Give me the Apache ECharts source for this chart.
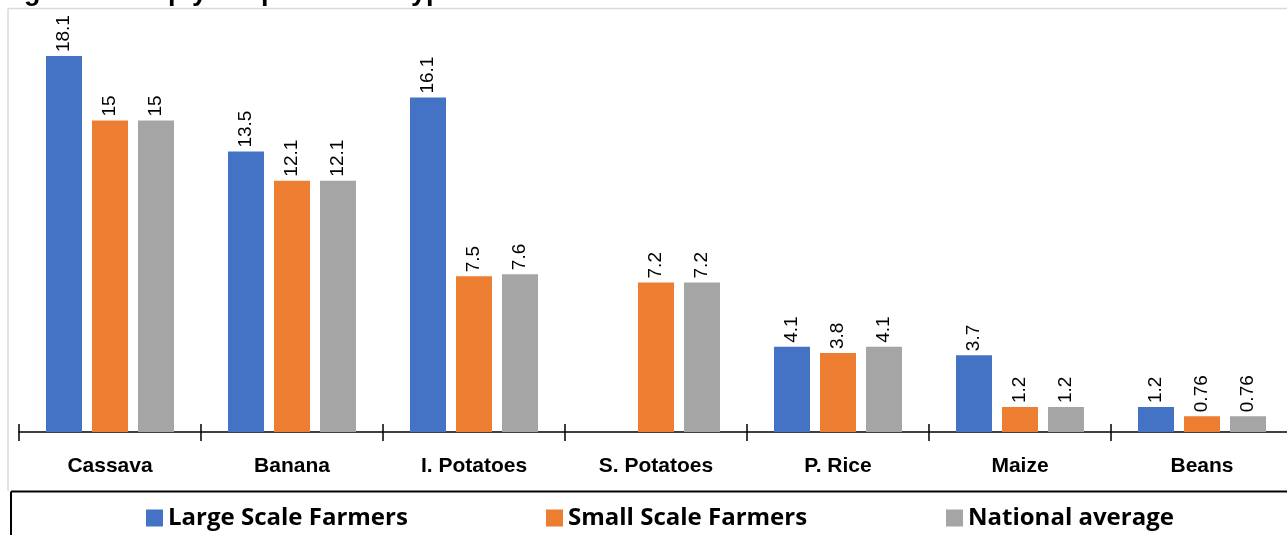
<!DOCTYPE html>
<html>
<head>
<meta charset="utf-8">
<script src="https://cdn.jsdelivr.net/npm/echarts@6/dist/echarts.min.js"></script>
<style>
html,body{margin:0;padding:0;background:#fff;overflow:hidden;width:1287px;height:535px;}
#c{width:1294px;height:535px;}
</style>
</head>
<body>
<div id="c"></div>
<script>
var titleText = 'Figure 2: Crop yield per farmer type';
var categories = ['Cassava', 'Banana', 'I. Potatoes', 'S. Potatoes', 'P. Rice', 'Maize', 'Beans'];
var seriesNames = ['Large Scale Farmers', 'Small Scale Farmers', 'National average'];
var largeScale = [18.1, 13.5, 16.1, '-', 4.1, 3.7, 1.2];
var smallScale = [15, 12.1, 7.5, 7.2, 3.8, 1.2, 0.76];
var nationalAvg = [15, 12.1, 7.6, 7.2, 4.1, 1.2, 0.76];
var colors = ['#4472C4', '#ED7D31', '#A5A5A5'];

var chart = echarts.init(document.getElementById('c'));
var labelFont = "'Liberation Sans', Arial, sans-serif";
function mkSeries(name, data, color) {
  return {
    name: name, type: 'bar', data: data,
    barWidth: 36, barGap: '27.8%',
    itemStyle: { color: color },
    label: {
      show: true, position: 'top', rotate: 90, align: 'left', verticalAlign: 'middle',
      distance: 4, color: '#000', fontSize: 19, fontFamily: labelFont
    }
  };
}
var legendFont = { color: '#000', fontSize: 24, fontWeight: 'bold', fontFamily: '"Open Sans", sans-serif' };
chart.setOption({
  animation: false,
  backgroundColor: '#fff',
  grid: { left: 19, right: 1, top: 16.6, bottom: 103, containLabel: false },
  xAxis: [{
    type: 'category', data: categories,
    axisLine: { lineStyle: { color: '#000', width: 1.5 } },
    axisTick: { show: true, length: 9, lineStyle: { color: '#000', width: 1.5 } },
    axisLabel: { margin: 24, color: '#000', fontSize: 21, fontWeight: 'bold', fontFamily: "'Liberation Sans', Arial, sans-serif" }
  }, {
    type: 'category', data: categories, position: 'bottom',
    axisLine: { show: false },
    axisTick: { show: true, inside: true, length: 8, lineStyle: { color: '#000', width: 1.5 } },
    axisLabel: { show: false }
  }],
  yAxis: { type: 'value', min: 0, max: 20, show: false, splitLine: { show: false } },
  legend: [
    { data: [seriesNames[0]], left: 146, top: 506, itemWidth: 17, itemHeight: 17, icon: 'rect', textStyle: legendFont, padding: 0 },
    { data: [seriesNames[1]], left: 546, top: 506, itemWidth: 17, itemHeight: 17, icon: 'rect', textStyle: legendFont, padding: 0 },
    { data: [seriesNames[2]], left: 946, top: 506, itemWidth: 17, itemHeight: 17, icon: 'rect', textStyle: legendFont, padding: 0 }
  ],
  graphic: [
    { type: 'line', shape: { x1: 8, y1: 8.5, x2: 1294, y2: 8.5 }, style: { stroke: '#d9d9d9', lineWidth: 1.5 } },
    { type: 'line', shape: { x1: 8, y1: 8.5, x2: 8, y2: 491 }, style: { stroke: '#d9d9d9', lineWidth: 1.5 } },
    { type: 'line', shape: { x1: 11, y1: 491.5, x2: 1294, y2: 491.5 }, style: { stroke: '#000', lineWidth: 2 } },
    { type: 'line', shape: { x1: 11, y1: 491.5, x2: 11, y2: 535 }, style: { stroke: '#000', lineWidth: 2 } },
    { type: 'text', left: 0, top: -21, style: { text: titleText, fill: '#000', font: "bold 27px 'Liberation Sans', Arial, sans-serif" } }
  ],
  series: [
    mkSeries(seriesNames[0], largeScale, colors[0]),
    mkSeries(seriesNames[1], smallScale, colors[1]),
    mkSeries(seriesNames[2], nationalAvg, colors[2])
  ]
});
</script>
</body>
</html>
